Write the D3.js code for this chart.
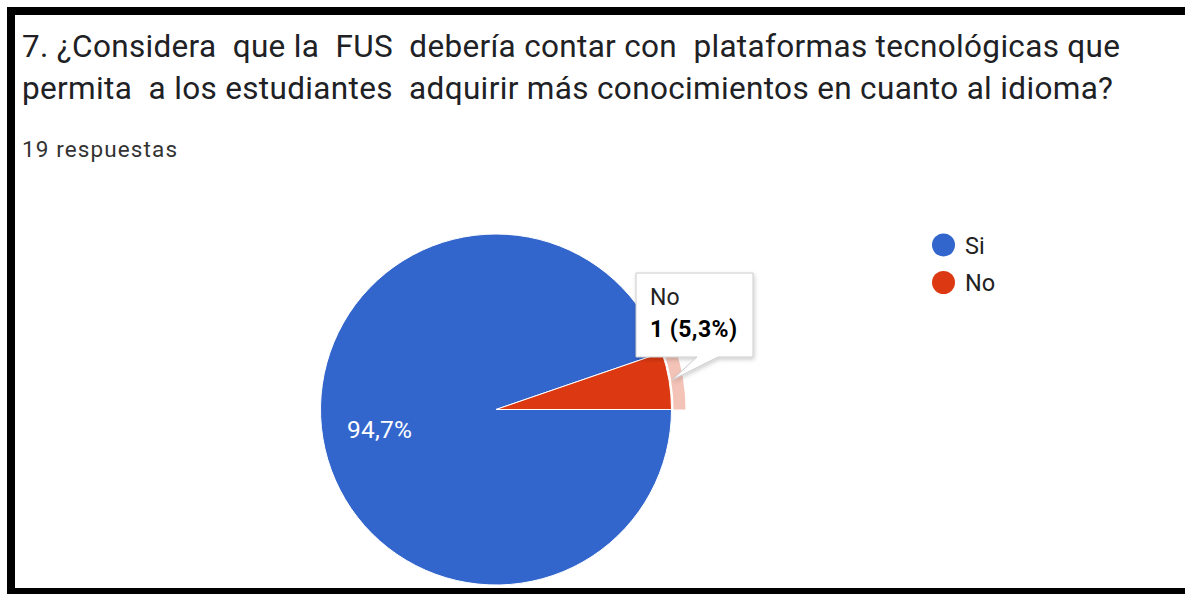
<!DOCTYPE html>
<html><head><meta charset="utf-8">
<script src="https://cdn.jsdelivr.net/npm/d3@7"></script>
<style>
html,body{margin:0;padding:0;background:#fff;}
svg{display:block;font-family:Roboto, Arial, sans-serif;}
</style></head>
<body>
<script>
const titleLines = ["7. ¿Considera  que la  FUS  debería contar con  plataformas tecnológicas que",
                    "permita  a los estudiantes  adquirir más conocimientos en cuanto al idioma?"];
const titleWidths = [1098, 1091];
const subtitle = "19 respuestas";
const categories = ["Si", "No"];
const counts = [18, 1];
const colors = ["#3366cc", "#dc3912"];

const W = 1185, H = 594;
const svg = d3.select("body").append("svg").attr("width", W).attr("height", H);
svg.append("rect").attr("width", W).attr("height", H).attr("fill", "#fff");

// Title
svg.append("g").selectAll("text").data(titleLines).join("text")
  .attr("x", 22).attr("y", (d, i) => 57 + i * 42)
  .attr("font-size", 31.5).attr("fill", "#202124")
  .attr("textLength", (d, i) => titleWidths[i]).attr("lengthAdjust", "spacing")
  .attr("xml:space", "preserve")
  .text(d => d);
svg.append("text").attr("x", 22).attr("y", 157).attr("font-size", 22.5)
  .attr("fill", "#333").attr("textLength", 155).attr("lengthAdjust", "spacing").text(subtitle);

// Pie
const cx = 496, cy = 409.5, R = 175.5;
const total = d3.sum(counts);
const pie = d3.pie().sort(null).startAngle(Math.PI / 2).endAngle(Math.PI / 2 + 2 * Math.PI);
const arcs = pie(counts);
const arc = d3.arc().innerRadius(0).outerRadius(R);
const g = svg.append("g").attr("transform", `translate(${cx},${cy})`);
g.selectAll("path.slice").data(arcs).join("path").attr("class", "slice")
  .attr("d", arc).attr("fill", (d, i) => colors[i])
  .attr("stroke", "#fff").attr("stroke-width", 1);

// highlight ring on "No"
const ring = d3.arc().innerRadius(R + 2).outerRadius(R + 14);
g.append("path").attr("d", ring(arcs[1])).attr("fill", colors[1]).attr("opacity", 0.3);

// percentage label for Si
const fmt = v => (v * 100).toFixed(1).replace(".", ",") + "%";
g.append("text").attr("x", -149).attr("y", 28).attr("font-size", 24.5)
  .attr("textLength", 65).attr("lengthAdjust", "spacing")
  .attr("fill", "#fff").text(fmt(counts[0] / total));

// Legend
const lg = svg.append("g");
categories.forEach((c, i) => {
  const y = 245 + i * 37.5;
  lg.append("circle").attr("cx", 943.5).attr("cy", y).attr("r", 11.5).attr("fill", colors[i]);
  lg.append("text").attr("x", 965).attr("y", y + 8.5).attr("font-size", 23.5).attr("fill", "#222").text(c);
});

// Tooltip
const defs = svg.append("defs");
const f = defs.append("filter").attr("id", "sh").attr("x", "-20%").attr("y", "-20%").attr("width", "140%").attr("height", "140%");
f.append("feDropShadow").attr("dx", 1).attr("dy", 2).attr("stdDeviation", 2).attr("flood-color", "#000").attr("flood-opacity", 0.2);
const tx = 636, ty = 273, tw = 117, th = 84;
const tip = svg.append("g");
const pathD = `M${tx},${ty} H${tx + tw} V${ty + th} H${tx + 82} L${672},${380} L${tx + 61},${ty + th} H${tx} Z`;
tip.append("path").attr("d", pathD).attr("fill", "#fff").attr("stroke", "#ccc").attr("stroke-width", 1).attr("filter", "url(#sh)");
tip.append("text").attr("x", 650).attr("y", 305).attr("font-size", 23).attr("fill", "#222").text(categories[1]);
tip.append("text").attr("x", 650).attr("y", 337).attr("font-size", 23).attr("fill", "#000")
  .attr("textLength", 87).attr("lengthAdjust", "spacing").attr("font-weight", "bold")
  .text(counts[1] + " (" + fmt(counts[1] / total) + ")");

// Frame
svg.append("rect").attr("x", 7).attr("y", 7).attr("width", W - 7).attr("height", 8).attr("fill", "#000");
svg.append("rect").attr("x", 7).attr("y", 7).attr("width", 8).attr("height", H - 7).attr("fill", "#000");
svg.append("rect").attr("x", 7).attr("y", 588).attr("width", W - 7).attr("height", 6).attr("fill", "#000");
</script>
</body></html>
